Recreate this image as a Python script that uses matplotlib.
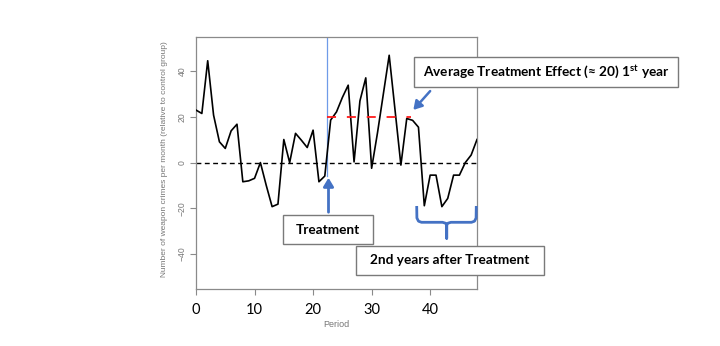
import numpy as np
import matplotlib
matplotlib.use('Agg')
import matplotlib.pyplot as plt
from matplotlib.patches import Rectangle, FancyArrowPatch
from matplotlib.lines import Line2D

plt.rcParams['mathtext.default'] = 'regular'

# 数据：相对对照组的每月武器犯罪数
period = list(range(49))
crimes = [23, 21.5, 44.6, 20.8, 9.1, 6.2, 13.9, 16.8, -8.4, -8.0,
          -6.9, 0, -10, -19.3, -18.2, 10.1, 0, 12.8, 9.8, 6.6,
          14.2, -8.4, -5.9, 18.6, 22.2, 28.5, 33.9, 0.3, 27.0, 37.1,
          -2.5, 13, 30, 47, 23, -1.1, 19.3, 18.5, 15.5, -18.9,
          -5.5, -5.5, -19.3, -15.7, -5.5, -5.5, 0, 3.3, 10.1]
x_ticks = [0, 10, 20, 30, 40]
y_ticks = [-40, -20, 0, 20, 40]
treat_start = 22.3
effect = 20
effect_end = 36.8

W, H = 720, 346
fig = plt.figure(figsize=(W / 100, H / 100), dpi=100)
fig.patch.set_facecolor('white')


def px(x, y):
    # 像素坐标(左上为原点) -> figure 坐标
    return x / W, 1 - y / H


ax = fig.add_axes([196 / W, 1 - 289.3 / H, (477 - 196) / W, (289.3 - 37) / H])
ax.set_xlim(0, 48)
ax.set_ylim(-55.5, 55)

grey = '#8a8a8a'
for s in ax.spines.values():
    s.set_color(grey)
    s.set_linewidth(0.9)

ax.plot(period, crimes, color='black', lw=1.2, zorder=3)
ax.axhline(0, color='black', lw=1.0, dashes=(3.5, 2.5), zorder=2)
ax.plot([treat_start, effect_end], [effect, effect], color='#ff1a1a', lw=1.3,
        dashes=(5, 6), zorder=4)
ax.plot([treat_start, treat_start], [-6, 55], color='#6f9be8', lw=0.9, zorder=2)

ax.set_xticks(x_ticks)
ax.set_yticks(y_ticks)
ax.tick_params(axis='both', color=grey, length=4.5, width=0.8)
ax.tick_params(axis='x', labelsize=10.5, labelcolor='black', pad=5.5)
ax.tick_params(axis='y', labelsize=6.2, labelcolor='#777777', pad=2, labelrotation=90)
for lab in ax.get_xticklabels():
    lab.set_fontfamily('Lato')
for lab in ax.get_yticklabels():
    lab.set_fontfamily('Liberation Sans')
    lab.set_verticalalignment('center')

fig.text(*px(336.5, 324.5), 'Period', ha='center', va='center', fontsize=6.5,
         color='#777777', family='Liberation Sans')
fig.text(*px(165, 159), 'Number of weapon crimes per month (relative to control group)',
         ha='center', va='center', rotation=90, fontsize=6.0, color='#777777',
         family='Liberation Sans')

blue = '#4472C4'
box_font = dict(family=['Lato', 'DejaVu Sans'], weight='bold', fontsize=9.8,
                color='black', ha='center', va='center', zorder=7)


def box(x0, y0, x1, y1, text):
    fx0, fy1 = px(x0, y0)
    fx1, fy0 = px(x1, y1)
    fig.patches.append(Rectangle((fx0, fy0), fx1 - fx0, fy1 - fy0, transform=fig.transFigure,
                                 facecolor='white', edgecolor='#7a7a7a', lw=1.0, zorder=6))
    fig.text((fx0 + fx1) / 2, (fy0 + fy1) / 2, text, **box_font)


# 箭头
fig.patches.append(FancyArrowPatch(px(328.5, 215), px(328.5, 175), transform=fig.transFigure,
                                   arrowstyle='-|>,head_length=5,head_width=3',
                                   color=blue, lw=2, zorder=5))
fig.patches.append(FancyArrowPatch(px(432, 89), px(411.5, 112), transform=fig.transFigure,
                                   arrowstyle='-|>,head_length=5,head_width=3',
                                   color=blue, lw=1.8, zorder=5))

# 大括号
bx = [416.7, 416.9, 418.5, 421.5, 442.5, 445.5, 446.7, 446.7, 446.7, 447.9, 450.9, 471.5, 474.5, 476.1, 476.3]
by = [206, 218, 221.2, 222.3, 222.3, 223.2, 225, 238.3, 225, 223.2, 222.3, 222.3, 221.2, 218, 206]
pts = [px(a, b) for a, b in zip(bx, by)]
fig.lines.append(Line2D([p[0] for p in pts], [p[1] for p in pts], transform=fig.transFigure,
                        color=blue, lw=2, zorder=5, solid_capstyle='butt', solid_joinstyle='round'))

box(283, 215, 373, 244, 'Treatment')
box(414, 57, 678, 87, r'Average Treatment Effect (≈ 20) 1$^{st}$ year')
box(356, 246, 544, 275, '2nd years after Treatment')

fig.savefig('out.png', dpi=100)
